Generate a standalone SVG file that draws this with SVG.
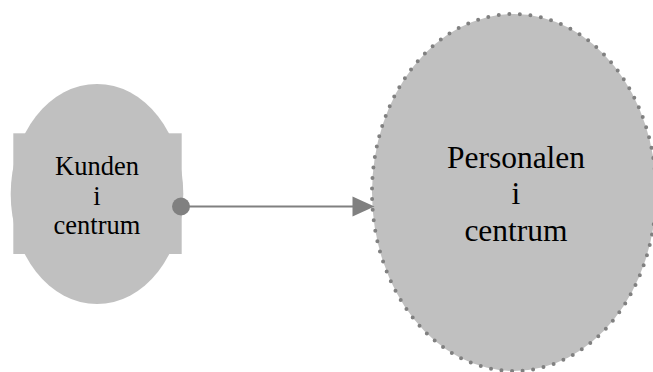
<svg xmlns="http://www.w3.org/2000/svg" width="653" height="372" viewBox="0 0 653 372">
  <style>
    .shape { fill: #c0c0c0; }
    .lbl { fill: #000000; text-anchor: middle; font-family: Liberation Serif, Times New Roman, serif; }
    .dotted { stroke: #808080; stroke-width: 4; stroke-dasharray: 0 10.6; stroke-linecap: round; }
    .conn { stroke: #808080; stroke-width: 2; fill: none; }
    .connfill { fill: #808080; }
  </style>
  <rect width="653" height="372" fill="#ffffff"/>
  <g id="node-kunden">
    <ellipse class="shape" cx="97" cy="194" rx="86.3" ry="110"/>
    <rect class="shape" x="13.3" y="133.3" width="168.4" height="120.7"/>
    <text class="lbl" font-size="26.5" x="97" y="175">Kunden</text>
    <text class="lbl" font-size="26.5" x="97" y="205">i</text>
    <text class="lbl" font-size="26.5" x="97" y="234">centrum</text>
  </g>
  <g id="node-personalen">
    <ellipse class="shape dotted" cx="514" cy="192.5" rx="142" ry="178.5"/>
    <text class="lbl" font-size="31.5" x="516" y="167.5">Personalen</text>
    <text class="lbl" font-size="31.5" x="516" y="204">i</text>
    <text class="lbl" font-size="31.5" x="516" y="240.5">centrum</text>
  </g>
  <g id="connectors">
    <line class="conn" x1="181" y1="206.5" x2="354" y2="206.5"/>
    <circle class="connfill" cx="181" cy="206.5" r="9"/>
    <polygon class="connfill" points="352.5,196.5 374.5,206.5 352.5,216.5"/>
  </g>
</svg>
